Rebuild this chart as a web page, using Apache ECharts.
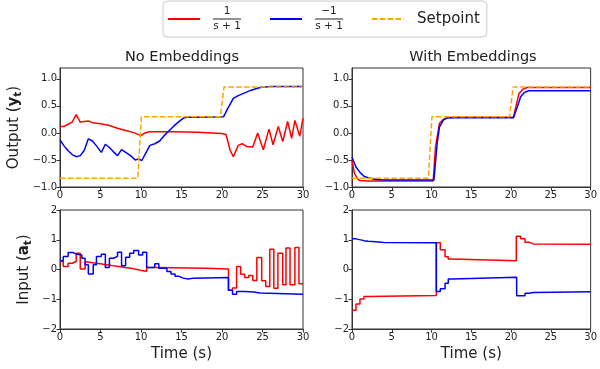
<!DOCTYPE html>
<html>
<head>
<meta charset="utf-8">
<script src="https://cdn.jsdelivr.net/npm/echarts@6/dist/echarts.min.js"></script>
<style>
  html, body { margin: 0; padding: 0; background: #fff; }
  #main { width: 600px; height: 369px; }
</style>
</head>
<body>
<div id="main"></div>
<script>
// 时间轴刻度
var timeTicks = [0, 5, 10, 15, 20, 25, 30];
var outTicks = [-1, -0.5, 0, 0.5, 1];
var inTicks = [-2, -1, 0, 1, 2];

// 设定值 (Setpoint)
var spT = [0, 9.6, 10.05, 19.8, 20.25, 30];
var spY = [-0.84, -0.84, 0.3, 0.3, 0.85, 0.85];

// No Embeddings - 输出
var noOutRedT = [0, 0.5, 1, 1.5, 2, 2.5, 3, 3.5, 4, 5, 6, 7, 8, 9, 10, 10.5, 11, 12, 14, 17, 20, 20.5, 21, 21.4, 22, 22.5, 23, 23.8, 24.4, 25.1, 25.8, 26.3, 26.95, 27.5, 28.1, 28.6, 29, 29.6, 30];
var noOutRedY = [0.12, 0.12, 0.16, 0.2, 0.34, 0.2, 0.21, 0.22, 0.19, 0.17, 0.14, 0.09, 0.05, 0.01, -0.05, 0.0, 0.02, 0.02, 0.02, 0.01, -0.01, -0.03, -0.32, -0.44, -0.23, -0.2, -0.25, -0.26, 0.0, -0.31, 0.07, -0.22, 0.12, -0.16, 0.21, -0.1, 0.23, -0.06, 0.27];
var noOutBlueT = [0, 0.5, 1, 1.5, 2, 2.5, 3, 3.5, 4, 4.5, 5.1, 5.6, 6.1, 6.6, 7.1, 7.6, 8.2, 8.7, 9.3, 9.7, 10.1, 10.6, 11.1, 11.7, 12.3, 12.8, 13.4, 14, 14.6, 15.2, 15.6, 17, 20.2, 20.7, 21.4, 22, 22.8, 23.6, 24.7, 26, 30];
var noOutBlueY = [-0.13, -0.24, -0.33, -0.4, -0.44, -0.42, -0.32, -0.11, -0.15, -0.24, -0.36, -0.21, -0.27, -0.35, -0.42, -0.31, -0.37, -0.42, -0.5, -0.48, -0.51, -0.37, -0.23, -0.2, -0.15, -0.06, 0.03, 0.12, 0.2, 0.27, 0.29, 0.29, 0.3, 0.45, 0.64, 0.69, 0.74, 0.79, 0.84, 0.86, 0.86];

// With Embeddings - 输出
var embOutRedT = [0, 0.3, 0.7, 1, 2, 10.2, 10.5, 11, 11.5, 12, 13, 20.3, 20.7, 21, 21.5, 22, 30];
var embOutRedY = [-0.5, -0.75, -0.85, -0.88, -0.89, -0.89, -0.26, 0.18, 0.25, 0.28, 0.29, 0.29, 0.55, 0.73, 0.81, 0.84, 0.84];
var embOutBlueT = [0, 0.5, 1, 1.5, 2, 3, 4, 10.3, 10.7, 11, 11.5, 12, 13, 20.3, 20.8, 21.2, 21.7, 22.2, 23, 30];
var embOutBlueY = [-0.45, -0.63, -0.73, -0.8, -0.83, -0.86, -0.87, -0.87, -0.2, 0.11, 0.24, 0.28, 0.28, 0.28, 0.49, 0.67, 0.75, 0.78, 0.78, 0.78];

// No Embeddings - 输入 (阶梯)
var noInRedT = [0, 0.4, 1, 1.5, 2, 2.5, 3.1, 3.5, 4, 4.5, 5, 5.5, 6, 6.5, 7, 7.5, 8, 8.5, 9, 9.5, 10, 10.7, 12, 14, 16, 18, 20.8, 21.3, 21.8, 22.3, 22.8, 23.3, 23.8, 24.3, 24.9, 25.4, 25.9, 26.4, 26.9, 27.5, 27.9, 28.4, 29, 29.5, 30];
var noInRedY = [0.27, 0.1, 0.21, 0.27, 0.55, 0.02, 0.25, 0.23, 0.21, 0.19, 0.17, 0.15, 0.13, 0.11, 0.09, 0.07, 0.05, 0.03, 0.0, -0.03, -0.06, 0.07, 0.06, 0.05, 0.04, 0.02, -0.7, -0.62, 0.1, -0.16, -0.27, -0.2, -0.37, 0.4, -0.38, -0.57, 0.68, -0.63, 0.55, -0.51, 0.72, -0.51, 0.74, -0.48, -0.48];
var noInBlueT = [0, 0.4, 1, 1.65, 2.05, 2.7, 3.1, 3.5, 4.1, 4.5, 5.1, 5.6, 6.1, 6.6, 7.1, 7.6, 8.1, 8.6, 9.1, 9.7, 10.2, 10.7, 11.7, 12.2, 13.2, 13.7, 14.2, 14.7, 15.2, 15.8, 16.5, 20.8, 21.3, 21.8, 22.8, 23.9, 24.7, 30];
var noInBlueY = [0.29, 0.44, 0.57, 0.51, 0.49, 0.38, 0.16, -0.15, 0.16, 0.44, 0.51, 0.07, 0.38, 0.44, 0.58, 0.13, 0.41, 0.55, 0.64, 0.49, 0.58, 0.07, 0.19, 0.04, -0.07, -0.15, -0.23, -0.29, -0.32, -0.29, -0.27, -0.7, -0.83, -0.74, -0.76, -0.79, -0.83, -0.83];

// With Embeddings - 输入 (阶梯)
var embInRedT = [0, 0.5, 1, 1.5, 2, 10.6, 11.1, 11.7, 12.1, 12.6, 20.65, 21.2, 21.75, 22.25, 22.8, 30];
var embInRedY = [-1.37, -1.16, -0.99, -0.91, -0.87, 0.9, 0.66, 0.43, 0.35, 0.29, 1.12, 1.03, 0.92, 0.86, 0.85, 0.85];
var embInBlueT = [0, 0.5, 1.5, 2, 3, 4, 10.6, 11.1, 11.7, 12.1, 12.6, 20.7, 21.75, 22.25, 22.8, 30];
var embInBlueY = [1.03, 0.97, 0.95, 0.93, 0.91, 0.9, -0.74, -0.65, -0.46, -0.32, -0.26, -0.88, -0.8, -0.77, -0.75, -0.75];

var FONT = 'DejaVu Sans';
var RED = '#ff0000', BLUE = '#0000ff', ORANGE = '#ffa500';

function zip(t, y) {
  return t.map(function (v, i) { return [v, y[i]]; });
}
function fmt(v, d) {
  return v.toFixed(d).replace('-', '\u2212');
}

var grids = [
  { left: 60, top: 68, width: 243, height: 119 },
  { left: 352, top: 68, width: 243, height: 119 },
  { left: 60, top: 210, width: 243, height: 119 },
  { left: 352, top: 210, width: 243, height: 119 }
].map(function (g) {
  return Object.assign({ show: true, borderColor: '#333', borderWidth: 1, backgroundColor: '#fff' }, g);
});

function xAxis(i) {
  var ax = {
    type: 'value', gridIndex: i, min: 0, max: 30, interval: 5,
    axisLine: { show: true, onZero: false, lineStyle: { color: '#333', width: 1 } },
    axisTick: { show: true, length: 3.5, lineStyle: { color: '#333' } },
    axisLabel: { fontSize: 10, color: '#222', margin: 3, fontFamily: FONT },
    splitLine: { show: false }
  };
  if (i >= 2) {
    ax.name = 'Time (s)';
    ax.nameLocation = 'middle';
    ax.nameGap = 18;
    ax.nameTextStyle = { fontSize: 15, color: '#222', fontFamily: FONT };
  }
  return ax;
}

function yAxis(i) {
  var top = i < 2;
  var ax = {
    type: 'value', gridIndex: i,
    min: top ? -1 : -2, max: top ? 1.2 : 2, interval: top ? 0.5 : 1,
    axisLine: { show: true, onZero: false, lineStyle: { color: '#333', width: 1 } },
    axisTick: { show: true, length: 3.5, lineStyle: { color: '#333' }, customValues: top ? outTicks : inTicks },
    axisLabel: {
      fontSize: 10, color: '#222', margin: 3, fontFamily: FONT,
      customValues: top ? outTicks : inTicks,
      formatter: function (v) { return fmt(v, top ? 1 : 0); }
    },
    splitLine: { show: false }
  };
  var rich = {
    a: { fontSize: 15, color: '#222', fontFamily: FONT, lineHeight: 20, verticalAlign: 'middle' },
    b: { fontSize: 15, color: '#222', fontFamily: FONT, fontWeight: 'bold', lineHeight: 20, verticalAlign: 'middle' },
    s: { fontSize: 10.5, color: '#222', fontFamily: FONT, fontWeight: 'bold', lineHeight: 10, verticalAlign: 'bottom' }
  };
  if (i === 0) {
    ax.name = '{a|Output (}{b|y}{s|t}{a|)}';
    ax.nameLocation = 'middle';
    ax.nameGap = 36;
    ax.nameTextStyle = { rich: rich };
  } else if (i === 2) {
    ax.name = '{a|Input (}{b|a}{s|t}{a|)}';
    ax.nameLocation = 'middle';
    ax.nameGap = 26;
    ax.nameTextStyle = { rich: rich };
  }
  return ax;
}

function line(name, i, data, color, step, dashed) {
  return {
    name: name, type: 'line', xAxisIndex: i, yAxisIndex: i,
    data: data, step: step || false,
    symbol: 'none', showSymbol: false, silent: true,
    lineStyle: { color: color, width: 1.5, type: dashed ? [5.5, 2.4] : 'solid' },
    itemStyle: { color: color }
  };
}

var chart = echarts.init(document.getElementById('main'), null, { renderer: 'canvas' });

var option = {
  animation: false,
  backgroundColor: '#fff',
  textStyle: { fontFamily: FONT },
  title: [
    { text: 'No Embeddings', left: 182, top: 50, textAlign: 'center', padding: 0,
      textStyle: { fontSize: 14.5, fontWeight: 'normal', color: '#222', fontFamily: FONT } },
    { text: 'With Embeddings', left: 473, top: 50, textAlign: 'center', padding: 0,
      textStyle: { fontSize: 14.5, fontWeight: 'normal', color: '#222', fontFamily: FONT } }
  ],
  legend: {
    left: 163, top: 1,
    data: ['pos', 'neg', 'Setpoint'],
    itemWidth: 32, itemHeight: 14, itemGap: 28,
    padding: [5, 7, 5, 4],
    borderColor: '#ccc', borderWidth: 1, borderRadius: 4,
    backgroundColor: '#fff',
    itemStyle: { opacity: 0 },
    formatter: function (name) {
      if (name === 'pos') return '{n|1}\n{bar|}\n{d|s + 1}';
      if (name === 'neg') return '{n|\u22121}\n{bar|}\n{d|s + 1}';
      return '{t|Setpoint}';
    },
    textStyle: {
      color: '#222', fontFamily: FONT,
      padding: [0, 0, 0, 8],
      rich: {
        n: { fontSize: 10.5, width: 28, align: 'center', lineHeight: 12, color: '#222', fontFamily: FONT },
        bar: { width: 28, height: 1, lineHeight: 3, backgroundColor: '#222' },
        d: { fontSize: 10.5, width: 28, align: 'center', lineHeight: 12, color: '#222', fontFamily: FONT },
        t: { fontSize: 15, color: '#222', fontFamily: FONT }
      }
    }
  },
  grid: grids,
  xAxis: [0, 1, 2, 3].map(xAxis),
  yAxis: [0, 1, 2, 3].map(yAxis),
  series: [
    line('pos', 0, zip(noOutRedT, noOutRedY), RED),
    line('neg', 0, zip(noOutBlueT, noOutBlueY), BLUE),
    line('Setpoint', 0, zip(spT, spY), ORANGE, false, true),
    line('pos', 1, zip(embOutRedT, embOutRedY), RED),
    line('neg', 1, zip(embOutBlueT, embOutBlueY), BLUE),
    line('Setpoint', 1, zip(spT, spY), ORANGE, false, true),
    line('pos', 2, zip(noInRedT, noInRedY), RED, 'end'),
    line('neg', 2, zip(noInBlueT, noInBlueY), BLUE, 'end'),
    line('pos', 3, zip(embInRedT, embInRedY), RED, 'end'),
    line('neg', 3, zip(embInBlueT, embInBlueY), BLUE, 'end')
  ]
};

chart.setOption(option);
</script>
</body>
</html>
